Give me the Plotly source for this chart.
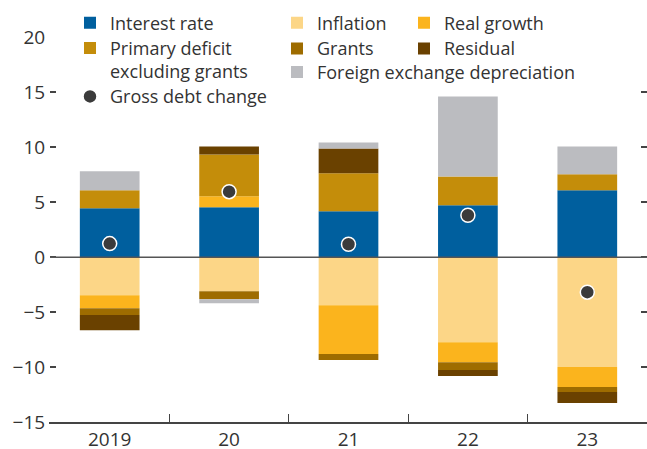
import plotly.graph_objects as go

years = ["2019", "20", "21", "22", "23"]
interest_rate = [4.45, 4.55, 4.18, 4.73, 6.09]
inflation = [-3.45, -3.09, -4.36, -7.73, -10.0]
real_growth = [-1.19, 1.0, -4.46, -1.82, -1.82]
primary_deficit = [1.64, 3.81, 3.46, 2.63, 1.46]
grants = [-0.63, -0.73, -0.54, -0.72, -0.45]
residual = [-1.37, 0.73, 2.27, -0.55, -1.0]
fx_depreciation = [1.73, -0.36, 0.54, 7.28, 2.54]
gross_debt_change = [1.24, 5.97, 1.18, 3.82, -3.18]
y_ticks = [-15, -10, -5, 0, 5, 10, 15, 20]

FONT = "Open Sans"
TXT = "#333333"

W, H = 647, 449
ML, MR, MT, MB = 50, 0, 37, 27
PW, PH = W - ML - MR, H - MT - MB


def px_to_paper(xp, yp):
    return (xp - ML) / PW, (H - MB - yp) / PH


series = [
    ("Interest rate", interest_rate, "#005f9e", "legend", (70, 23)),
    ("Inflation", inflation, "#fcd687", "legend2", (277, 23)),
    ("Real growth", real_growth, "#fbb41d", "legend3", (404, 23)),
    ("Primary deficit<br>excluding grants", primary_deficit, "#c48d0a", "legend4", (70, 48.7)),
    ("Grants", grants, "#9e6c00", "legend5", (277, 48.7)),
    ("Residual", residual, "#6a4100", "legend6", (404, 48.7)),
    ("Foreign exchange depreciation", fx_depreciation, "#bbbcc0", "legend7", (277, 72.3)),
]

fig = go.Figure()
legends = {}
for name, vals, col, lg, pos in series:
    fig.add_trace(go.Bar(x=years, y=vals, name=name, marker=dict(color=col, line=dict(width=0)),
                         legend=lg))
    legends[lg] = pos

fig.add_trace(go.Scatter(x=years, y=gross_debt_change, mode="markers", name="Gross debt change",
                         marker=dict(color="#3b3b3b", size=14, line=dict(color="white", width=1.5)),
                         legend="legend8"))
legends["legend8"] = (70, 96.7)

layout_legends = {}
for lg, (xp, yp) in legends.items():
    xx, yy = px_to_paper(xp, yp)
    layout_legends[lg] = dict(x=xx, y=yy, xanchor="left", yanchor="middle",
                              bgcolor="rgba(0,0,0,0)", font=dict(family=FONT, size=18, color=TXT),
                              valign="top", itemclick=False, itemdoubleclick=False)
xx, yy = px_to_paper(70, 48.7 - 19)
layout_legends["legend4"]["y"] = yy
layout_legends["legend4"]["yanchor"] = "top"

fig.update_layout(
    width=W, height=H,
    margin=dict(l=ML, r=MR, t=MT, b=MB, pad=0, autoexpand=False),
    barmode="relative", bargap=0.5,
    plot_bgcolor="white", paper_bgcolor="white",
    font=dict(family=FONT, size=19, color=TXT),
    showlegend=True,
    **layout_legends,
    xaxis=dict(type="category", ticks="inside", tickson="boundaries", ticklen=8, tickwidth=1.2,
               tickcolor="#444", showline=True, linecolor="#444", linewidth=1.5, showgrid=False,
               automargin=False, ticklabelstandoff=-1,
               tickfont=dict(family=FONT, size=19, color=TXT)),
    yaxis=dict(range=[-15, 20.05], tickvals=y_ticks, ticks="inside", ticklen=6, tickwidth=1.5,
               tickcolor="#444", mirror="ticks", showline=True, linecolor="rgba(0,0,0,0)",
               showgrid=False, zeroline=False, automargin=False,
               ticklabelstandoff=0, tickfont=dict(family=FONT, size=19, color=TXT)),
    shapes=[dict(type="line", xref="paper", yref="y", x0=0, x1=1, y0=0, y1=0,
                 line=dict(color="#555", width=1.5), layer="above")],
)

fig.write_html("out.html", post_script="document.body.style.margin='0';",
               config={"displayModeBar": False})
